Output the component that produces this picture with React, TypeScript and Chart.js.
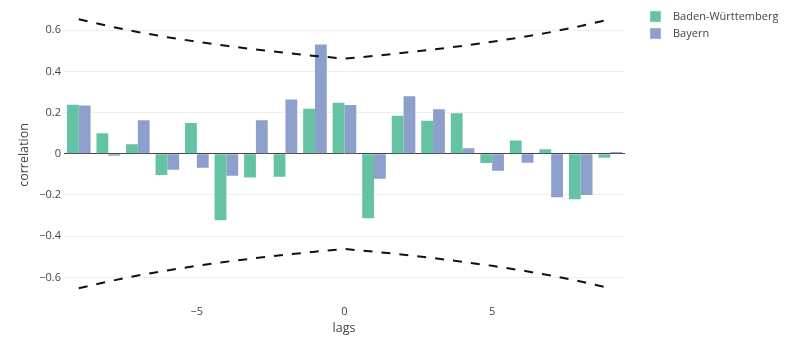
import React, { useEffect, useRef } from "react";
import { Chart, registerables } from "chart.js";

Chart.register(...registerables);

const lags = [-9, -8, -7, -6, -5, -4, -3, -2, -1, 0, 1, 2, 3, 4, 5, 6, 7, 8, 9];
const bwValues = [0.238, 0.1, 0.046, -0.103, 0.15, -0.323, -0.115, -0.112, 0.219, 0.248, -0.313, 0.185, 0.16, 0.197, -0.045, 0.064, 0.022, -0.221, -0.019];
const byValues = [0.235, -0.009, 0.163, -0.078, -0.068, -0.107, 0.163, 0.263, 0.53, 0.237, -0.121, 0.279, 0.216, 0.027, -0.082, -0.044, -0.211, -0.2, 0.009];
const upperBand = [0.653, 0.62, 0.591, 0.566, 0.544, 0.524, 0.506, 0.49, 0.475, 0.462, 0.475, 0.49, 0.506, 0.524, 0.544, 0.566, 0.591, 0.62, 0.653];
const lowerBand = [-0.653, -0.62, -0.591, -0.566, -0.544, -0.524, -0.506, -0.49, -0.475, -0.462, -0.475, -0.49, -0.506, -0.524, -0.544, -0.566, -0.591, -0.62, -0.653];
const seriesNames = ["Baden-Württemberg", "Bayern"];
const seriesColors = ["#66c2a5", "#8da0cb"];
const xTicks = [-5, 0, 5];
const yTicks = [0.6, 0.4, 0.2, 0, -0.2, -0.4, -0.6];
const xTitle = "lags";
const yTitle = "correlation";

const FONT = "'Open Sans', sans-serif";
const fmt = (v: number) => {
  const r = Math.round(v * 10) / 10;
  if (r === 0) return "0";
  const s = Math.abs(r).toString();
  return r < 0 ? "\u2212" + s : s;
};

const textPlugin = {
  id: "extraText",
  afterDraw(chart: any) {
    const ctx = chart.ctx;
    ctx.save();
    ctx.fillStyle = "#444";
    ctx.font = `12.5px ${FONT}`;
    ctx.textAlign = "center";
    ctx.textBaseline = "middle";
    ctx.fillText(xTitle, 344, 328);
    ctx.save();
    ctx.translate(24.5, 155);
    ctx.rotate(-Math.PI / 2);
    ctx.fillText(yTitle, 0, 0);
    ctx.restore();
    ctx.font = `11px ${FONT}`;
    ctx.textAlign = "left";
    seriesNames.forEach((name, i) => {
      const y = 11 + i * 17;
      ctx.fillStyle = seriesColors[i];
      ctx.fillRect(650, y, 11, 11);
      ctx.strokeStyle = "#E5ECF6";
      ctx.lineWidth = 0.5;
      ctx.strokeRect(650, y, 11, 11);
      ctx.fillStyle = "#444";
      ctx.fillText(name, 673, y + 6);
    });
    ctx.restore();
  },
};

export default function App() {
  const ref = useRef<HTMLCanvasElement | null>(null);
  useEffect(() => {
    document.body.style.margin = "0";
    const canvas = ref.current;
    if (!canvas) return;
    const chart = new Chart(canvas, {
      type: "bar",
      data: {
        datasets: [
          {
            type: "line",
            label: "upper",
            data: lags.map((x, i) => ({ x, y: upperBand[i] })),
            borderColor: "#111",
            borderWidth: 2,
            borderDash: [9, 9],
            pointRadius: 0,
            fill: false,
            order: 0,
          } as any,
          {
            type: "line",
            label: "lower",
            data: lags.map((x, i) => ({ x, y: lowerBand[i] })),
            borderColor: "#111",
            borderWidth: 2,
            borderDash: [9, 9],
            pointRadius: 0,
            fill: false,
            order: 0,
          } as any,
          {
            type: "bar",
            label: seriesNames[0],
            data: lags.map((x, i) => ({ x, y: bwValues[i] })),
            backgroundColor: seriesColors[0],
            borderWidth: 0,
            categoryPercentage: 0.8,
            barPercentage: 1.0,
            order: 1,
          } as any,
          {
            type: "bar",
            label: seriesNames[1],
            data: lags.map((x, i) => ({ x, y: byValues[i] })),
            backgroundColor: seriesColors[1],
            borderWidth: 0,
            categoryPercentage: 0.8,
            barPercentage: 1.0,
            order: 1,
          } as any,
        ],
      },
      options: {
        animation: false,
        responsive: false,
        maintainAspectRatio: false,
        layout: { padding: { left: 0, right: 167, top: 9, bottom: 0 } },
        plugins: { legend: { display: false }, tooltip: { enabled: false } },
        scales: {
          x: {
            type: "linear",
            min: -9.5,
            max: 9.5,
            offset: false,
            grid: { display: false, drawTicks: false },
            border: { display: false },
            afterBuildTicks: (s: any) => {
              s.ticks = xTicks.map((v) => ({ value: v }));
            },
            afterFit: (s: any) => {
              s.height = 40;
            },
            ticks: {
              padding: 7,
              color: "#444",
              font: { family: FONT, size: 11 },
              callback: (v: any) => fmt(Number(v)),
              maxRotation: 0,
            },
          },
          y: {
            type: "linear",
            min: -0.7,
            max: 0.7,
            grid: {
              drawTicks: false,
              color: (c: any) => (c.tick && c.tick.value === 0 ? "#444" : "#eee"),
              lineWidth: 1,
            },
            border: { display: false },
            afterBuildTicks: (s: any) => {
              s.ticks = yTicks.map((v) => ({ value: v }));
            },
            afterFit: (s: any) => {
              s.width = 64;
            },
            ticks: {
              padding: 3,
              color: "#444",
              font: { family: FONT, size: 11 },
              callback: (v: any) => fmt(Number(v)),
            },
          },
        },
      } as any,
      plugins: [textPlugin],
    });
    return () => chart.destroy();
  }, []);
  return (
    <div style={{ width: 792, height: 338 }}>
      <canvas ref={ref} width={792} height={338} style={{ display: "block" }} />
    </div>
  );
}
